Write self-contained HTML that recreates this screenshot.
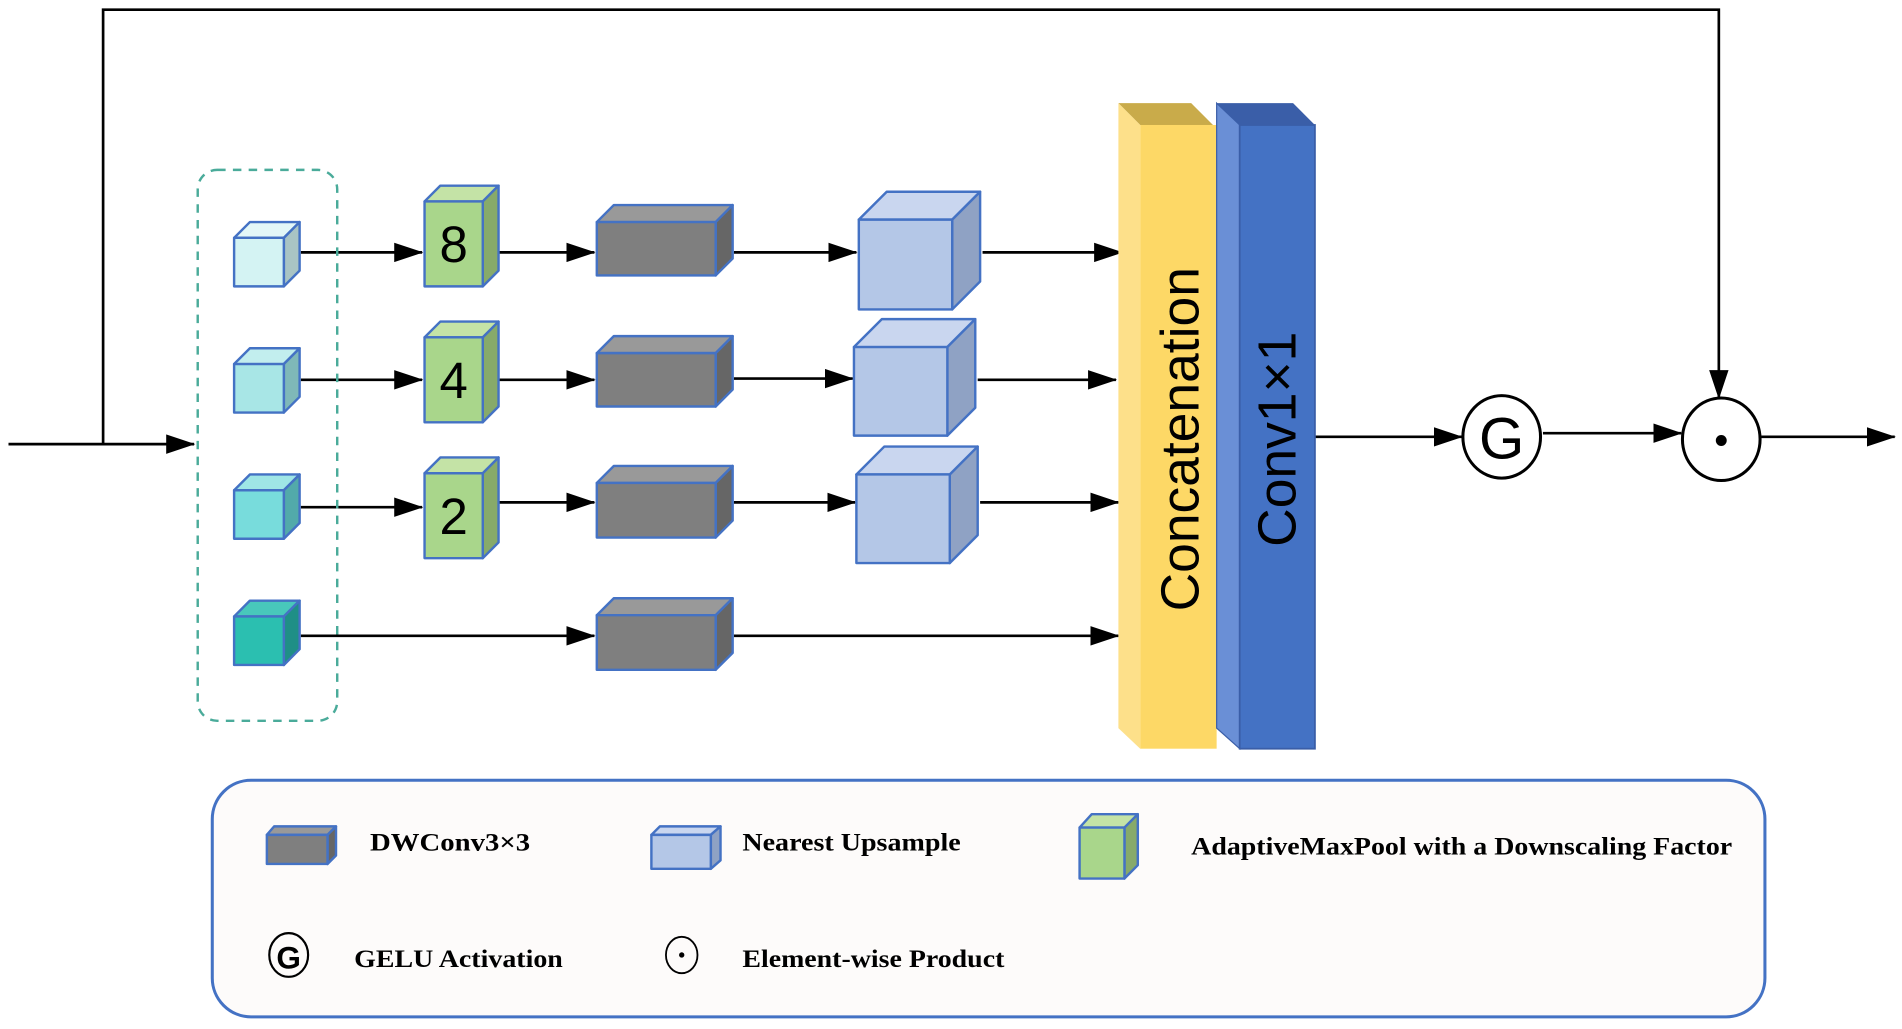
<!DOCTYPE html>
<html><head><meta charset="utf-8"><style>
html,body{margin:0;padding:0;background:#fff;width:1902px;height:1029px;overflow:hidden}
svg{display:block}
</style></head><body>
<svg width="1902" height="1029" viewBox="0 0 1568 848" preserveAspectRatio="none" xmlns="http://www.w3.org/2000/svg">
<defs>
<marker id="a" markerWidth="10" markerHeight="10" refX="9" refY="5" orient="auto" markerUnits="userSpaceOnUse"><path d="M0,0 L10,5 L0,10 Z" fill="#000"/></marker>
<marker id="b" viewBox="0 0 24 16" markerWidth="24" markerHeight="16" refX="23" refY="8" orient="auto" markerUnits="userSpaceOnUse"><path d="M0,0 L24,8 L0,16 Z" fill="#000"/></marker>
</defs>
<g stroke="#000" stroke-width="2.2" fill="none">
<path d="M85,366 V8 H1417 V328" marker-end="url(#b)"/>
<path d="M7,366 H160" marker-end="url(#b)"/>
<!-- row arrows -->
<path d="M248,208 H348" marker-end="url(#b)"/>
<path d="M411,208 H490" marker-end="url(#b)"/>
<path d="M605,208 H706" marker-end="url(#b)"/>
<path d="M810,208 H925" marker-end="url(#b)"/>
<path d="M248,313 H348" marker-end="url(#b)"/>
<path d="M411,313 H490" marker-end="url(#b)"/>
<path d="M605,312 H703" marker-end="url(#b)"/>
<path d="M806,313 H920" marker-end="url(#b)"/>
<path d="M248,418 H348" marker-end="url(#b)"/>
<path d="M411,414 H490" marker-end="url(#b)"/>
<path d="M605,414 H705" marker-end="url(#b)"/>
<path d="M808,414 H922" marker-end="url(#b)"/>
<path d="M248,524 H490" marker-end="url(#b)"/>
<path d="M605,524 H922" marker-end="url(#b)"/>
<path d="M1084,360 H1205" marker-end="url(#b)"/>
<path d="M1272,357 H1386" marker-end="url(#b)"/>
<path d="M1452,360 H1562" marker-end="url(#b)"/>
</g>
<rect x="163" y="140" width="115" height="454" rx="16" fill="none" stroke="#4aab9a" stroke-width="2" stroke-dasharray="7,6"/>
<g stroke="#4472c4" stroke-width="2" stroke-linejoin="round">
<!-- small cubes -->
<g><polygon points="193,196 206,183 247,183 234,196" fill="#e3f7f7"/><polygon points="234,196 247,183 247,223 234,236" fill="#a9c4c4"/><rect x="193" y="196" width="41" height="40" fill="#d4f3f3"/></g>
<g><polygon points="193,300 206,287 247,287 234,300" fill="#c2eeee"/><polygon points="234,300 247,287 247,327 234,340" fill="#7fb8b8"/><rect x="193" y="300" width="41" height="40" fill="#a8e6e6"/></g>
<g><polygon points="193,404 206,391 247,391 234,404" fill="#9fe6e6"/><polygon points="234,404 247,391 247,431 234,444" fill="#52aaaa"/><rect x="193" y="404" width="41" height="40" fill="#78dcdc"/></g>
<g><polygon points="193,508 206,495 247,495 234,508" fill="#48c8bb"/><polygon points="234,508 247,495 247,535 234,548" fill="#1f8f86"/><rect x="193" y="508" width="41" height="40" fill="#2bbfb0"/></g>
<!-- green -->
<g><polygon points="350,166 363,153 411,153 398,166" fill="#c4e3a6"/><polygon points="398,166 411,153 411,223 398,236" fill="#87aa6a"/><rect x="350" y="166" width="48" height="70" fill="#a9d68b"/></g>
<g><polygon points="350,278 363,265 411,265 398,278" fill="#c4e3a6"/><polygon points="398,278 411,265 411,335 398,348" fill="#87aa6a"/><rect x="350" y="278" width="48" height="70" fill="#a9d68b"/></g>
<g><polygon points="350,390 363,377 411,377 398,390" fill="#c4e3a6"/><polygon points="398,390 411,377 411,447 398,460" fill="#87aa6a"/><rect x="350" y="390" width="48" height="70" fill="#a9d68b"/></g>
<!-- gray -->
<g><polygon points="492,183 506,169 604,169 590,183" fill="#999"/><polygon points="590,183 604,169 604,213 590,227" fill="#666"/><rect x="492" y="183" width="98" height="44" fill="#7f7f7f"/></g>
<g><polygon points="492,291 506,277 604,277 590,291" fill="#999"/><polygon points="590,291 604,277 604,321 590,335" fill="#666"/><rect x="492" y="291" width="98" height="44" fill="#7f7f7f"/></g>
<g><polygon points="492,398 506,384 604,384 590,398" fill="#999"/><polygon points="590,398 604,384 604,429 590,443" fill="#666"/><rect x="492" y="398" width="98" height="45" fill="#7f7f7f"/></g>
<g><polygon points="492,507 506,493 604,493 590,507" fill="#999"/><polygon points="590,507 604,493 604,538 590,552" fill="#666"/><rect x="492" y="507" width="98" height="45" fill="#7f7f7f"/></g>
<!-- blue cubes -->
<g><polygon points="708,181 731,158 808,158 785,181" fill="#c9d6ef"/><polygon points="785,181 808,158 808,232 785,255" fill="#8fa2c4"/><rect x="708" y="181" width="77" height="74" fill="#b4c7e7"/></g>
<g><polygon points="704,286 727,263 804,263 781,286" fill="#c9d6ef"/><polygon points="781,286 804,263 804,336 781,359" fill="#8fa2c4"/><rect x="704" y="286" width="77" height="73" fill="#b4c7e7"/></g>
<g><polygon points="706,391 729,368 806,368 783,391" fill="#c9d6ef"/><polygon points="783,391 806,368 806,441 783,464" fill="#8fa2c4"/><rect x="706" y="391" width="77" height="73" fill="#b4c7e7"/></g>
</g>
<g font-family="Liberation Sans, sans-serif" font-size="42" text-anchor="middle" fill="#000">
<text x="374" y="216">8</text><text x="374" y="328">4</text><text x="374" y="440">2</text>
</g>
<!-- concatenation -->
<polygon points="922,85 982,85 1000,103 940,103" fill="#c9ab4a"/>
<polygon points="922,85 940,103 940,617 922,600" fill="#fde08a"/>
<rect x="940" y="103" width="63" height="514" fill="#fdd866"/>
<polygon points="1003,85 1066,85 1084,103 1022,103" fill="#3a5ea8"/>
<polygon points="1003,85 1022,103 1022,617 1003,600" fill="#6a8fd6" stroke="#3a5ea8" stroke-width="1"/>
<rect x="1022" y="103" width="62" height="514" fill="#4472c4" stroke="#3a5ea8" stroke-width="1.5"/>
<text transform="translate(988,362) rotate(-90)" font-family="Liberation Sans, sans-serif" font-size="44" text-anchor="middle" fill="#000">Concatenation</text>
<text transform="translate(1068,362) rotate(-90)" font-family="Liberation Sans, sans-serif" font-size="44" text-anchor="middle" fill="#000">Conv1×1</text>
<!-- circles -->
<ellipse cx="1238" cy="360" rx="32" ry="34" fill="#fff" stroke="#000" stroke-width="2.5"/>
<text x="1238" y="378" font-family="Liberation Sans, sans-serif" font-size="48" text-anchor="middle">G</text>
<ellipse cx="1419" cy="362" rx="32" ry="34" fill="#fff" stroke="#000" stroke-width="2.5"/>
<circle cx="1419" cy="363" r="4.5" fill="#000"/>
<!-- legend -->
<rect x="175" y="643" width="1280" height="195" rx="32" fill="#fdfbfa" stroke="#4472c4" stroke-width="2.5"/>
<g stroke="#4472c4" stroke-width="2" stroke-linejoin="round">
<polygon points="220,688 226,681 277,681 270,688" fill="#999"/><polygon points="270,688 277,681 277,705 270,712" fill="#666"/><rect x="220" y="688" width="50" height="24" fill="#7f7f7f"/>
<polygon points="537,688 544,681 594,681 586,688" fill="#c9d6ef"/><polygon points="586,688 594,681 594,709 586,716" fill="#8fa2c4"/><rect x="537" y="688" width="49" height="28" fill="#b4c7e7"/>
<polygon points="890,682 900,671 938,671 927,682" fill="#c4e3a6"/><polygon points="927,682 938,671 938,713 927,724" fill="#87aa6a"/><rect x="890" y="682" width="37" height="42" fill="#a9d68b"/>
</g>
<g font-family="Liberation Serif, serif" font-weight="bold" font-size="21" fill="#000">
<text x="305" y="701" textLength="132" lengthAdjust="spacingAndGlyphs">DWConv3×3</text>
<text x="612" y="701" textLength="180" lengthAdjust="spacingAndGlyphs">Nearest Upsample</text>
<text x="982" y="704" textLength="446" lengthAdjust="spacingAndGlyphs">AdaptiveMaxPool with a Downscaling Factor</text>
<text x="292" y="797" textLength="172" lengthAdjust="spacingAndGlyphs">GELU Activation</text>
<text x="612" y="797" textLength="216" lengthAdjust="spacingAndGlyphs">Element-wise Product</text>
</g>
<ellipse cx="238" cy="787" rx="16" ry="18" fill="none" stroke="#000" stroke-width="1.8"/>
<text x="238" y="798" font-family="Liberation Sans, sans-serif" font-size="26" font-weight="bold" text-anchor="middle">G</text>
<ellipse cx="562" cy="787" rx="13" ry="15" fill="none" stroke="#000" stroke-width="1.5"/>
<circle cx="562" cy="787" r="2.2" fill="#000"/>
</svg>
</body></html>
